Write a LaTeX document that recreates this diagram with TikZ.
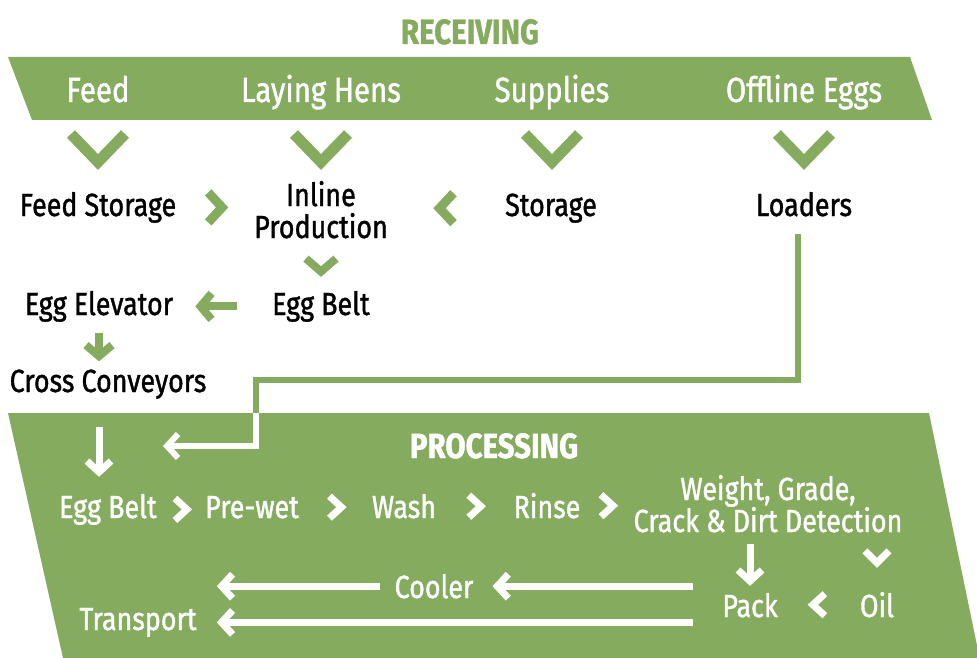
\documentclass[tikz,border=0pt]{standalone}
\usepackage{fontspec}
\setmainfont[FakeStretch=0.84, FakeBold=1.2]{Fira Sans}
\usetikzlibrary{arrows.meta, calc, positioning}
\definecolor{eggreen}{RGB}{132,171,94}

\begin{document}
\begin{tikzpicture}[x=1pt, y=-1pt]
    \tikzstyle{lbl}=[inner sep=0pt, anchor=base, align=center, font=\fontsize{32}{32}\selectfont]
    \tikzstyle{hdr}=[lbl, text=white, font=\fontsize{35}{36}\selectfont]
    \tikzstyle{ttl}=[lbl, font=\fontsize{35}{38}\selectfont\bfseries]
    \tikzstyle{plbl}=[lbl, text=white]
    \tikzstyle{chev}=[draw=eggreen, line width=11pt, miter limit=20]
    \tikzstyle{wchev}=[draw=white, line width=7pt, miter limit=20]
    \tikzstyle{garrow}=[draw=eggreen, line width=8pt, -{Straight Barb[length=11pt, width=26pt]}]
    \tikzstyle{warrow}=[draw=white, line width=7pt, -{Straight Barb[length=11pt, width=24pt]}]

    \useasboundingbox (0,0) rectangle (977,658);

    % receiving band
    \fill[eggreen] (8,57) -- (910,57) -- (932,120) -- (32,120) -- cycle;
    \node[ttl, text=eggreen] (receiving) at (470,44) {RECEIVING};
    \node[hdr] (feed) at (98,102) {Feed};
    \node[hdr] (hens) at (321,102) {Laying Hens};
    \node[hdr] (supplies) at (552,102) {Supplies};
    \node[hdr] (offline) at (804,102) {Offline Eggs};

    \foreach \n in {feed, hens, supplies, offline}
        \draw[chev] ($(\n.base)+(-27,32)$) -- ++(27,28) -- ++(27,-28);

    % farm side
    \node[lbl] (feedstore) at (98,216) {Feed Storage};
    \node[lbl] (inline) at (321,238) {Inline\\Production};
    \node[lbl] (storage) at (551,216) {Storage};
    \node[lbl] (loaders) at (804,216) {Loaders};
    \node[lbl] (beltin) at (321,315) {Egg Belt};
    \node[lbl] (elevator) at (99,315) {Egg Elevator};
    \node[lbl] (crossconv) at (108,392) {Cross Conveyors};

    \draw[chev, line width=9pt] ($(feedstore.east)!0.5!(inline.west |- feedstore.east)$) ++(-7,-15) -- ++(14,15) -- ++(-14,15);
    \draw[chev, line width=9pt] ($(storage.west)!0.5!(inline.east |- storage.west)$) ++(7,-15) -- ++(-14,15) -- ++(14,15);
    \draw[chev, line width=8pt] (inline.south) ++(-15,20) -- ++(15,13) -- ++(15,-13);
    \draw[garrow] ([xshift=-35pt]beltin.west) -- ([xshift=22pt]elevator.east);
    \draw[garrow, shorten <=11pt, shorten >=8pt] (elevator.south) -- (elevator.south |- crossconv.north);

    % loaders line
    \coordinate (ljog) at (256,380);
    \coordinate (lentry) at (256,413);
    \coordinate (loadin) at (163,446);
    \draw[eggreen, line width=6pt] ([shift={(-6pt,-17pt)}]loaders.south) |- (ljog) -- (lentry);

    % processing band
    \fill[eggreen] (8,413) -- (929,413) -- (980,660) -- (63,658) -- cycle;
    \draw[warrow, line width=6pt] (lentry) |- (loadin);
    \node[ttl, text=white] (processing) at (494,458) {PROCESSING};
    \node[plbl] (beltproc) at (108,518) {Egg Belt};
    \node[plbl] (prewet) at (252,518) {Pre-wet};
    \node[plbl] (wash) at (404,518) {Wash};
    \node[plbl] (rinse) at (547,518) {Rinse};
    \node[plbl] (grading) at (768,532) {Weight, Grade,\\Crack \& Dirt Detection};
    \node[plbl] (pack) at (750,617) {Pack};
    \node[plbl] (oil) at (877,617) {Oil};
    \node[plbl] (cooler) at (434,598) {Cooler};
    \node[plbl] (transport) at (138,630) {Transport};

    \draw[warrow] ([yshift=-28pt]crossconv.south -| elevator.south) -- ([yshift=17pt]beltproc.north -| elevator.south);
    \foreach \a/\b in {beltproc/prewet, prewet/wash, wash/rinse, rinse/grading}
        \draw[wchev] ($(\a.east)!0.5!(\b.west |- \a.east)$) ++(-6,-11) -- ++(12,11) -- ++(-12,11);
    \draw[warrow, shorten <=11pt, shorten >=7pt] (grading.south -| pack) -- (pack.north);
    \draw[wchev] (oil.north) ++(-12,-41) -- ++(12,12) -- ++(12,-12);
    \draw[wchev] ($(oil.west)!0.5!(pack.east |- oil.west)$) ++(6,-11) -- ++(-12,11) -- ++(12,11);
    \draw[warrow] ([xshift=-29pt]pack.west |- cooler) -- ([xshift=19pt]cooler.east);
    \draw[warrow] ([xshift=-14pt]cooler.west) -- ([xshift=20pt]cooler.west -| transport.east);
    \draw[warrow] ([xshift=-29pt]pack.west |- transport) -- ([xshift=20pt]transport.east);
\end{tikzpicture}
\end{document}
